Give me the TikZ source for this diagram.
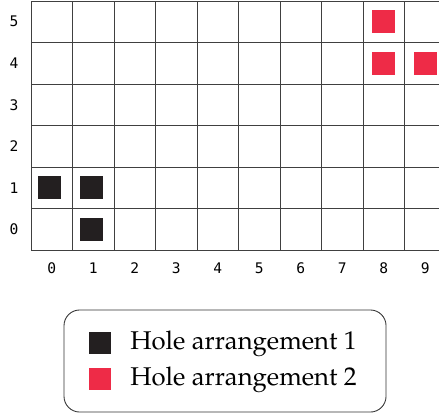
\documentclass[tikz,border=0pt]{standalone}
\usepackage[T1]{fontenc}
\usepackage{fontspec}
\setmonofont{DejaVu Sans Mono}
\usetikzlibrary{positioning}

\definecolor{holeblack}{RGB}{35,31,32}
\definecolor{holered}{RGB}{238,43,71}

\begin{document}
\begin{tikzpicture}[
    font=\ttfamily\fontsize{10}{12}\selectfont,
    gridline/.style={draw=black!75, line width=0.6pt},
    hole/.style={rectangle, minimum size=0.55cm, inner sep=0pt},
    keybox/.style={rectangle, minimum size=0.53cm, inner sep=0pt},
    legendbox/.style={draw=black!80, line width=0.6pt, rounded corners=0.38cm,
                      minimum width=7.76cm, minimum height=2.46cm},
    keytext/.style={anchor=west, inner sep=0pt,
                    font=\fontencoding{T1}\fontfamily{ppl}\fontsize{17.6}{20}\selectfont},
]
\useasboundingbox (-0.747,-3.928) rectangle (9.831,6.024);

% --- grid and axis labels ---
\draw[gridline] (0,0) grid (10,6);
\foreach \i in {0,...,9}
    \node (xlab\i) at (\i+0.5,-0.43) {\i};
\foreach \j in {0,...,5}
    \node (ylab\j) at (-0.41,\j+0.5) {\j};

% --- holes, arrangement 1 ---
\node[hole, fill=holeblack] (a1) at (0.45,1.5) {};
\node[hole, fill=holeblack] (a2) at (1.45,1.5) {};
\node[hole, fill=holeblack] (a3) at (1.45,0.5) {};

% --- holes, arrangement 2 ---
\node[hole, fill=holered] (b1) at (8.5,5.5) {};
\node[hole, fill=holered] (b2) at (8.5,4.5) {};
\node[hole, fill=holered] (b3) at (9.5,4.5) {};

% --- legend ---
\node[legendbox] (legend) at (4.675,-2.675) {};
\node[keybox, fill=holeblack] (key1) at (1.66,-2.25) {};
\node[keybox, fill=holered] (key2) at (1.66,-3.12) {};
\node[keytext] (key1txt) at (2.385,-2.25) {Hole arrangement 1};
\node[keytext] (key2txt) at (2.385,-3.12) {Hole arrangement 2};

\end{tikzpicture}
\end{document}
